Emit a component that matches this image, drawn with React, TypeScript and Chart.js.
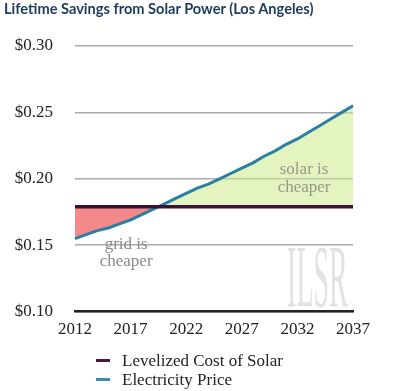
import { useEffect, useRef } from "react";
import { Chart, registerables } from "chart.js";

Chart.register(...registerables);

const years: string[] = [
  "2012","2013","2014","2015","2016","2017","2018","2019","2020","2021","2022","2023","2024",
  "2025","2026","2027","2028","2029","2030","2031","2032","2033","2034","2035","2036","2037",
];
const electricityPrice: number[] = [
  0.155, 0.158, 0.161, 0.163, 0.166, 0.169, 0.173, 0.177, 0.181, 0.185, 0.189, 0.193, 0.196,
  0.2, 0.204, 0.208, 0.212, 0.217, 0.221, 0.226, 0.23, 0.235, 0.24, 0.245, 0.25, 0.255,
];
const solarCost: number[] = years.map(() => 0.179);
const yTicks: number[] = [0.1, 0.15, 0.2, 0.25, 0.3];

const SERIF = "'Liberation Serif', 'Times New Roman', serif";

const annotationPlugin = {
  id: "annotations",
  afterDatasetsDraw(chart: any) {
    const { ctx, scales } = chart;
    const x = scales.x;
    const y = scales.y;
    ctx.save();
    // watermark
    const wx = x.getPixelForValue(21.8);
    const wy = y.getPixelForValue(0.104);
    ctx.save();
    ctx.translate(wx, wy);
    ctx.scale(1, 3.2);
    ctx.font = `28px ${SERIF}`;
    ctx.fillStyle = "#e2e2e2";
    ctx.textAlign = "center";
    ctx.textBaseline = "alphabetic";
    ctx.fillText("ILSR", 0, 0);
    ctx.restore();

    ctx.font = `17px ${SERIF}`;
    ctx.textAlign = "center";
    ctx.textBaseline = "middle";
    ctx.fillStyle = "#8a8a8a";
    const gx = x.getPixelForValue(4.6);
    ctx.fillText("grid is", gx, y.getPixelForValue(0.1505));
    ctx.fillText("cheaper", gx, y.getPixelForValue(0.1375));
    ctx.fillStyle = "#959a8a";
    const sx = x.getPixelForValue(20.6);
    ctx.fillText("solar is", sx, y.getPixelForValue(0.2072));
    ctx.fillText("cheaper", sx, y.getPixelForValue(0.1935));
    ctx.restore();
  },
};

export default function App() {
  const ref = useRef<HTMLCanvasElement | null>(null);
  useEffect(() => {
    let chart: Chart | null = null;
    let cancelled = false;
    const build = () => {
      if (cancelled || !ref.current) return;
      chart = new Chart(ref.current, {
        type: "line",
        data: {
          labels: years,
          datasets: [
            {
              label: "Levelized Cost of Solar",
              data: solarCost,
              borderColor: "#3b1236",
              borderWidth: 3.5,
              pointRadius: 0,
              fill: false,
            },
            {
              label: "Electricity Price",
              data: electricityPrice,
              borderColor: "#2a7fa2",
              borderWidth: 3,
              pointRadius: 0,
              tension: 0,
              fill: {
                target: 0,
                above: "rgba(205,235,140,0.55)",
                below: "#f4898c",
              },
            },
          ],
        },
        options: {
          responsive: false,
          animation: false,
          layout: { padding: { left: 15, top: 46, right: 46, bottom: 43 } },
          plugins: {
            legend: { display: false },
            tooltip: { enabled: false },
            title: { display: false },
          },
          scales: {
            x: {
              grid: { display: false, drawTicks: false },
              border: { display: true, color: "#222", width: 2.5 },
              ticks: {
                autoSkip: false,
                maxRotation: 0,
                padding: 8,
                color: "#222",
                font: { family: SERIF, size: 17 },
                callback: function (this: any, val: any, index: number) {
                  return index % 5 === 0 ? years[index] : "";
                },
              },
            },
            y: {
              min: 0.1,
              max: 0.3,
              afterBuildTicks: (scale: any) => {
                scale.ticks = yTicks.map((v) => ({ value: v }));
              },
              afterFit: (scale: any) => {
                scale.width = 60;
              },
              grid: { color: "#aaaaaa", lineWidth: 1.5, drawTicks: false },
              border: { display: false },
              ticks: {
                padding: 22,
                color: "#222",
                font: { family: SERIF, size: 17 },
                callback: (v: any) => "$" + Number(v).toFixed(2),
              },
            },
          },
        },
        plugins: [annotationPlugin],
      });
    };
    const fonts: any = (document as any).fonts;
    if (fonts && fonts.load) {
      Promise.all([
        fonts.load(`17px "Liberation Serif"`),
        fonts.load(`28px "Liberation Serif"`),
      ])
        .catch(() => null)
        .then(build);
    } else {
      build();
    }
    return () => {
      cancelled = true;
      if (chart) chart.destroy();
    };
  }, []);

  const legendItem = (color: string, text: string) => (
    <div style={{ display: "flex", alignItems: "center", height: 19 }}>
      <div style={{ width: 14, height: 3, background: color, marginRight: 12 }} />
      <span>{text}</span>
    </div>
  );

  return (
    <div style={{ position: "absolute", left: 0, top: 0, width: 399, height: 391, background: "#fff" }}>
      <canvas ref={ref} width={399} height={391} style={{ position: "absolute", left: 0, top: 0, width: 399, height: 391 }} />
      <div
        style={{
          position: "absolute",
          left: 4,
          top: 0,
          fontFamily: "Lato, 'Open Sans', sans-serif",
          fontWeight: 700,
          fontSize: 14.6,
          color: "#1d3a5c",
          whiteSpace: "nowrap",
        }}
      >
        Lifetime Savings from Solar Power (Los Angeles)
      </div>
      <div
        style={{
          position: "absolute",
          left: 96,
          top: 351,
          fontFamily: SERIF,
          fontSize: 17,
          color: "#222",
          lineHeight: "19px",
        }}
      >
        {legendItem("#4a1a45", "Levelized Cost of Solar")}
        {legendItem("#3a8fb0", "Electricity Price")}
      </div>
    </div>
  );
}
